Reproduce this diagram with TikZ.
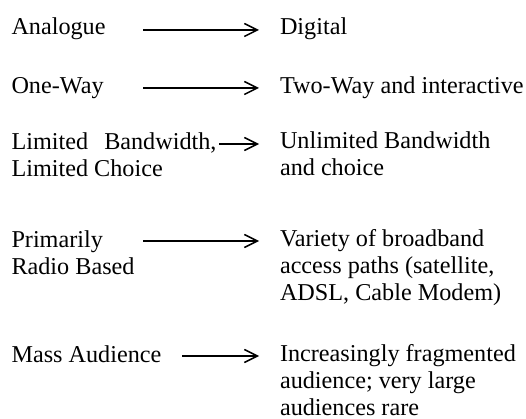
\documentclass[tikz,border=0pt]{standalone}
\usepackage{fontspec}
\setmainfont{Liberation Serif}
\usetikzlibrary{arrows.meta}
% stacked lines whose baseline is that of the first line
\newcommand{\firstlines}[1]{\vtop{\baselineskip=27pt\lineskiplimit=-20pt#1}}
\begin{document}
\begin{tikzpicture}[x=1pt,y=-1pt,
  txt/.style={anchor=base west,inner sep=0pt,outer sep=0pt,
    font=\fontsize{24.2}{27}\selectfont},
  changearrow/.style={-{Straight Barb[length=13pt,width=13pt,line width=1.5pt]},line width=1.5pt}]
\useasboundingbox (0,0) rectangle (526,419);
% left column
\node[txt] (l1) at (11.5,35) {Analogue};
\node[txt] (l2) at (11.5,94) {One-Way};
\node[txt] (l3) at (11.5,150) {\firstlines{\hbox to 205pt{Limited\hfil Bandwidth,}\hbox{Limited Choice}}};
\node[txt] (l4) at (11.5,247) {\firstlines{\hbox{Primarily}\hbox{Radio Based}}};
\node[txt] (l5) at (11.5,362) {Mass Audience};
% right column
\node[txt] (r1) at (280,35) {Digital};
\node[txt] (r2) at (280,94) {Two-Way and interactive};
\node[txt] (r3) at (280,149) {\firstlines{\hbox{Unlimited Bandwidth}\hbox{and choice}}};
\node[txt] (r4) at (280,246) {\firstlines{\hbox{Variety of broadband}\hbox{access paths (satellite,}\hbox{ADSL, Cable Modem)}}};
\node[txt] (r5) at (280,361) {\firstlines{\hbox{Increasingly fragmented}\hbox{audience; very large}\hbox{audiences rare}}};
% arrow end points
\coordinate (a1) at (143,30);  \coordinate (b1) at (259,30);
\coordinate (a2) at (143,88);  \coordinate (b2) at (259,88);
\coordinate (a3) at (219,144); \coordinate (b3) at (259,144);
\coordinate (a4) at (143,241); \coordinate (b4) at (259,241);
\coordinate (a5) at (182,356); \coordinate (b5) at (259,356);
\foreach \i in {1,...,5} \draw[changearrow] (a\i) -- (b\i);
\end{tikzpicture}
\end{document}
